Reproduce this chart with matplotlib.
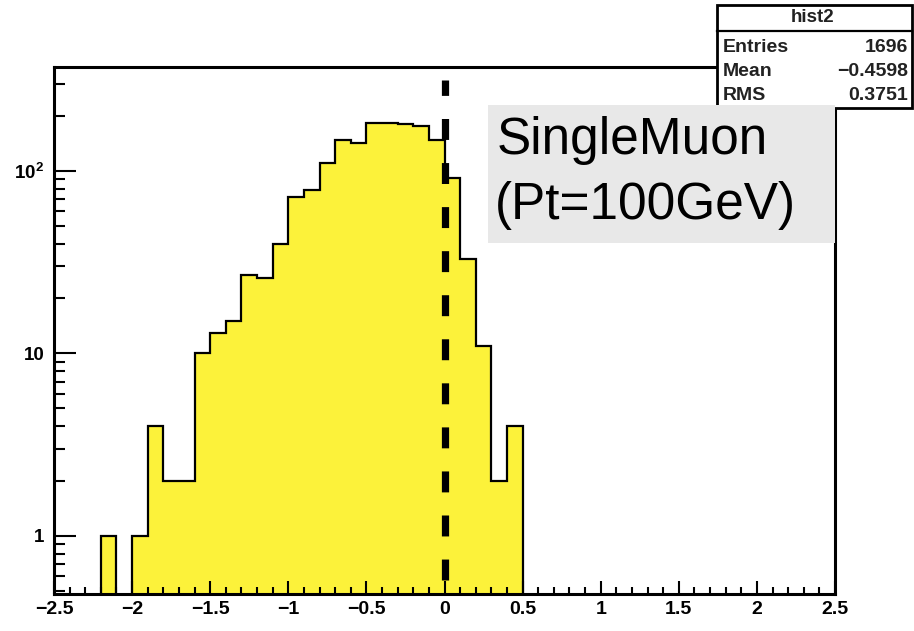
import matplotlib
matplotlib.use("Agg")
import matplotlib.pyplot as plt
import numpy as np
from matplotlib.patches import Rectangle
from matplotlib.ticker import FixedLocator, LogLocator, NullFormatter

plt.rcParams["font.family"] = ["Liberation Sans", "DejaVu Sans"]

# residual distribution, 50 bins of 0.1 from -2.5 to 2.5
bin_edges = np.linspace(-2.5, 2.5, 51)
counts = [0, 0, 0, 1, 0, 1, 4, 2, 2, 10,
          13, 15, 27, 26, 40, 72, 79, 110, 147, 142,
          184, 184, 181, 176, 148, 91, 33, 11, 2, 4,
          0, 0, 0, 0, 0, 0, 0, 0, 0, 0,
          0, 0, 0, 0, 0, 0, 0, 0, 0, 0]
stats_rows = [("Entries", "1696"), ("Mean", "\u22120.4598"), ("RMS", "0.3751")]
hist_name = "hist2"
note_lines = ["SingleMuon", "(Pt=100GeV)"]
cut_value = 0.0

W, H = 914, 631
fig = plt.figure(figsize=(W / 100, H / 100), dpi=100)


def px(x, y):
    return x / W, 1 - y / H


ax = fig.add_axes([54 / W, 1 - 594 / H, (835 - 54) / W, (594 - 67) / H])
ax.set_yscale("log")
ax.set_xlim(-2.5, 2.5)
ax.set_ylim(0.48, 371)

yfloor = 1e-3
drawn = np.where(np.array(counts) > 0, counts, yfloor)
ax.stairs(drawn, bin_edges, baseline=yfloor, fill=True, color="#fcf23a", zorder=1)
ax.stairs(drawn, bin_edges, baseline=yfloor, color="black", lw=1.6, zorder=2)

ax.axvline(cut_value, ymin=0.027, ymax=0.975, color="black", lw=5.2,
           dashes=(2.9, 3.2), zorder=4, clip_on=False)

for s in ax.spines.values():
    s.set_linewidth(2.2)
    s.set_zorder(5)

ax.xaxis.set_major_locator(FixedLocator(np.arange(-2.5, 2.51, 0.5)))
ax.xaxis.set_minor_locator(FixedLocator(np.arange(-2.5, 2.51, 0.1)))
ax.set_xticklabels(["\u22122.5", "\u22122", "\u22121.5", "\u22121", "\u22120.5",
                    "0", "0.5", "1", "1.5", "2", "2.5"])
ax.yaxis.set_major_locator(FixedLocator([1, 10, 100]))
ax.set_yticklabels(["1", "10", r"$\mathregular{10^{2}}$"])
ax.yaxis.set_minor_locator(LogLocator(base=10, subs=np.arange(2, 10)))
ax.yaxis.set_minor_formatter(NullFormatter())

ax.tick_params(axis="x", which="major", direction="in", length=9.5, width=1.5,
               pad=5, labelsize=14)
ax.tick_params(axis="x", which="minor", direction="in", length=5, width=1.5)
ax.tick_params(axis="y", which="major", direction="in", length=16, width=1.5,
               pad=7, labelsize=13.5)
ax.tick_params(axis="y", which="minor", direction="in", length=8, width=1.5)
for lab in ax.get_xticklabels() + ax.get_yticklabels():
    lab.set_fontweight("bold")

# statistics box
x0, y0 = px(717, 108)
x1, y1 = px(912, 5)
fig.patches.append(Rectangle((x0, y0), x1 - x0, y1 - y0, transform=fig.transFigure,
                             facecolor="white", edgecolor="black", lw=2, zorder=6))
sx0, sy = px(717, 31)
sx1, _ = px(912, 31)
fig.add_artist(plt.Line2D([sx0, sx1], [sy, sy], transform=fig.transFigure,
                          color="black", lw=1.6, zorder=7))
fig.text(*px(813, 18), hist_name, ha="center", va="center", fontsize=13.5,
         fontweight="bold", color="#222222", zorder=8)
for i, (name, val) in enumerate(stats_rows):
    yy = 47 + 24 * i
    fig.text(*px(723, yy), name, ha="left", va="center", fontsize=14,
             fontweight="bold", color="#222222", zorder=8)
    fig.text(*px(908, yy), val, ha="right", va="center", fontsize=14,
             fontweight="bold", color="#222222", zorder=8)

# annotation box
bx0, by0 = px(488, 243)
bx1, by1 = px(835, 105)
fig.patches.append(Rectangle((bx0, by0), bx1 - bx0, by1 - by0, transform=fig.transFigure,
                             facecolor="#e8e8e8", edgecolor="none", zorder=9))
fig.text(*px(497, 154), note_lines[0], ha="left", va="baseline", fontsize=37,
         color="black", zorder=10)
fig.text(*px(495, 219), note_lines[1], ha="left", va="baseline", fontsize=37,
         color="black", zorder=10)

fig.savefig("out.png", dpi=100)
